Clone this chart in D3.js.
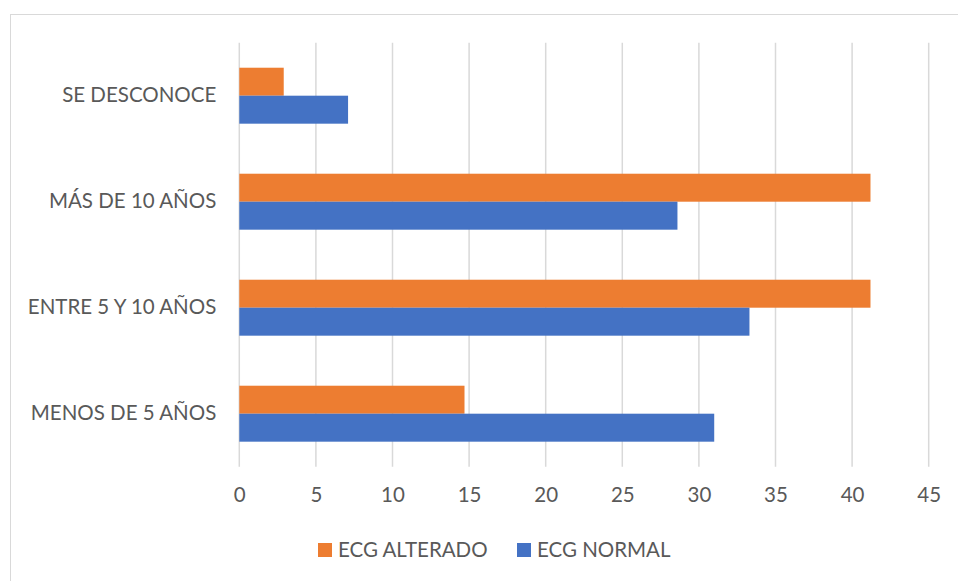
<!DOCTYPE html>
<html>
<head>
<meta charset="utf-8">
<script src="https://cdn.jsdelivr.net/npm/d3@7"></script>
<style>
  html, body { margin: 0; padding: 0; background: #fff; }
  svg { display: block; font-family: Lato, "Noto Sans", sans-serif; }
</style>
</head>
<body>
<svg id="chart" width="958" height="581"></svg>
<script>
// Years with the condition, top to bottom
const categories = ["SE DESCONOCE", "MÁS DE 10 AÑOS", "ENTRE 5 Y 10 AÑOS", "MENOS DE 5 AÑOS"];
const seriesNames = ["ECG ALTERADO", "ECG NORMAL"];
const alterado = [2.9, 41.2, 41.2, 14.7];
const normal = [7.1, 28.6, 33.3, 31.0];
const xTicks = [0, 5, 10, 15, 20, 25, 30, 35, 40, 45];
const colors = ["#ED7D31", "#4472C4"];

const svg = d3.select("#chart");
const margin = { left: 239.3, right: 958 - 928.7, top: 42.7, bottom: 581 - 466.7 };
const W = 958, H = 581;
const fontSize = "20.5px";

// chart area frame
svg.append("rect")
  .attr("x", 10.5).attr("y", 14.5)
  .attr("width", W).attr("height", H)
  .attr("fill", "#fff").attr("stroke", "#d9d9d9").attr("stroke-width", 1);

const x = d3.scaleLinear().domain([0, 45]).range([margin.left, W - margin.right]);
const y = d3.scaleBand().domain(categories).range([margin.top, H - margin.bottom])
  .paddingInner(0.472).paddingOuter(0.236);
const sub = d3.scaleBand().domain(seriesNames).range([0, y.bandwidth()]);

// vertical gridlines
svg.append("g").selectAll("line").data(xTicks).join("line")
  .attr("x1", d => x(d)).attr("x2", d => x(d))
  .attr("y1", margin.top).attr("y2", H - margin.bottom)
  .attr("stroke", "#d9d9d9").attr("stroke-width", 1.5);

// bars
const rows = categories.map((c, i) => ({ c, vals: [alterado[i], normal[i]] }));
const g = svg.append("g").selectAll("g").data(rows).join("g")
  .attr("transform", d => `translate(0,${y(d.c)})`);
g.selectAll("rect").data(d => d.vals.map((v, j) => ({ v, s: seriesNames[j], j })))
  .join("rect")
  .attr("x", x(0))
  .attr("y", d => sub(d.s))
  .attr("width", d => x(d.v) - x(0))
  .attr("height", sub.bandwidth())
  .attr("fill", d => colors[d.j]);

// bottom axis labels
const xAxis = d3.axisBottom(x).tickValues(xTicks).tickSize(0).tickPadding(21);
const ax = svg.append("g").attr("transform", `translate(0,${H - margin.bottom})`).call(xAxis);
ax.select(".domain").remove();
ax.selectAll("text").attr("fill", "#595959").style("font-size", fontSize)
  .style("font-family", "Lato, 'Noto Sans', sans-serif");

// category labels
const yAxis = d3.axisLeft(y).tickSize(0).tickPadding(23);
const ay = svg.append("g").attr("transform", `translate(${margin.left},0)`).call(yAxis);
ay.select(".domain").remove();
ay.selectAll("text").attr("fill", "#595959").style("font-size", fontSize)
  .style("font-family", "Lato, 'Noto Sans', sans-serif");

// legend
const legendX = [318, 517];
const leg = svg.append("g").selectAll("g").data(seriesNames).join("g")
  .attr("transform", (d, i) => `translate(${legendX[i]},550)`);
leg.append("rect").attr("x", 0).attr("y", -7).attr("width", 14).attr("height", 14)
  .attr("fill", (d, i) => colors[i]);
leg.append("text").attr("x", 20).attr("y", 0).attr("dy", "0.35em")
  .attr("fill", "#595959").style("font-size", fontSize).text(d => d);
</script>
</body>
</html>
